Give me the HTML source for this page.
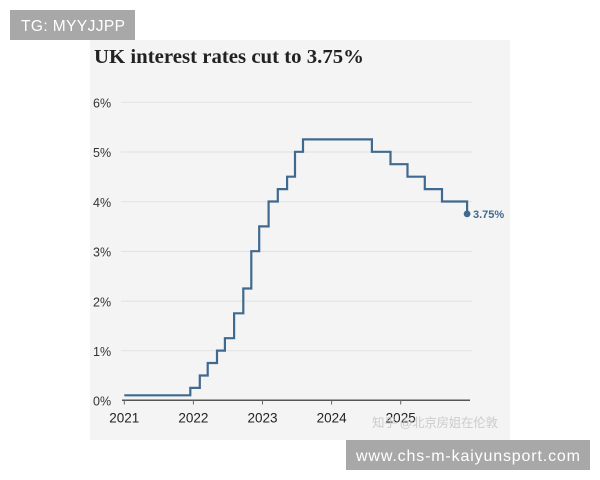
<!DOCTYPE html>
<html>
<head>
<meta charset="utf-8">
<style>
html,body{margin:0;padding:0;background:#fff;}
body{width:600px;height:480px;position:relative;overflow:hidden;}
svg{position:absolute;left:0;top:0;}
</style>
</head>
<body>
<svg width="600" height="480" viewBox="0 0 600 480" xmlns="http://www.w3.org/2000/svg">
  <rect x="0" y="0" width="600" height="480" fill="#ffffff"/>
  <!-- card -->
  <rect x="90" y="40" width="420" height="400" fill="#f4f4f4"/>
  <!-- TG box -->
  <rect x="10" y="10" width="125" height="30" fill="#a8a8a8"/>
  <text x="21" y="31" font-family="Liberation Sans, sans-serif" font-size="15.5" fill="#ffffff" textLength="104">TG: MYYJJPP</text>

  <!-- title -->
  <text x="94" y="63" font-family="Liberation Serif, serif" font-weight="bold" font-size="19.5" fill="#222222" textLength="270" lengthAdjust="spacingAndGlyphs">UK interest rates cut to 3.75%</text>

  <!-- gridlines -->
  <g stroke="#e1e1e1" stroke-width="1">
    <line x1="121" y1="102.3" x2="472" y2="102.3"/>
    <line x1="121" y1="152" x2="472" y2="152"/>
    <line x1="121" y1="201.7" x2="472" y2="201.7"/>
    <line x1="121" y1="251.4" x2="472" y2="251.4"/>
    <line x1="121" y1="301.1" x2="472" y2="301.1"/>
    <line x1="121" y1="350.8" x2="472" y2="350.8"/>
  </g>
  <!-- y labels -->
  <g font-family="Liberation Sans, sans-serif" font-size="12.5" fill="#333333">
    <text x="93" y="107.5">6%</text>
    <text x="93" y="157.2">5%</text>
    <text x="93" y="206.9">4%</text>
    <text x="93" y="256.6">3%</text>
    <text x="93" y="306.3">2%</text>
    <text x="93" y="356">1%</text>
    <text x="93" y="405.5">0%</text>
  </g>
  <!-- axis -->
  <line x1="122" y1="400.3" x2="470" y2="400.3" stroke="#555555" stroke-width="1.5"/>
  <g stroke="#666666" stroke-width="1">
    <line x1="124.3" y1="400.3" x2="124.3" y2="404.5"/>
    <line x1="193.4" y1="400.3" x2="193.4" y2="404.5"/>
    <line x1="262.5" y1="400.3" x2="262.5" y2="404.5"/>
    <line x1="331.6" y1="400.3" x2="331.6" y2="404.5"/>
    <line x1="400.7" y1="400.3" x2="400.7" y2="404.5"/>
  </g>
  <g font-family="Liberation Sans, sans-serif" font-size="13.5" fill="#222222" text-anchor="middle">
    <text x="124.3" y="422.7">2021</text>
    <text x="193.4" y="422.7">2022</text>
    <text x="262.5" y="422.7">2023</text>
    <text x="331.6" y="422.7">2024</text>
    <text x="400.7" y="422.7">2025</text>
  </g>

  <!-- watermark -->
  <text x="372" y="427" font-family="Liberation Sans, Noto Sans CJK SC, sans-serif" font-size="12.5" fill="#c4c4c4" fill-opacity="0.85" textLength="126">知乎 @北京房姐在伦敦</text>

  <!-- series -->
  <polyline fill="none" stroke="#40698f" stroke-width="2.2" stroke-linejoin="miter"
    points="124.3,395.3 190.3,395.3 190.3,387.9 199.8,387.9 199.8,375.5 207.7,375.5 207.7,363.0 217.0,363.0 217.0,350.6 224.9,350.6 224.9,338.2 234.1,338.2 234.1,313.3 243.3,313.3 243.3,288.5 251.3,288.5 251.3,251.2 259.2,251.2 259.2,226.4 268.6,226.4 268.6,201.5 277.8,201.5 277.8,189.1 287.1,189.1 287.1,176.7 295.0,176.7 295.0,151.8 303.0,151.8 303.0,139.4 371.9,139.4 371.9,151.8 390.5,151.8 390.5,164.2 407.5,164.2 407.5,176.7 424.8,176.7 424.8,189.1 442.0,189.1 442.0,201.5 467.1,201.5 467.1,213.9"/>
  <circle cx="467.1" cy="213.9" r="3.4" fill="#40698f"/>
  <text x="473" y="218" font-family="Liberation Sans, sans-serif" font-size="11" font-weight="bold" fill="#40698f">3.75%</text>

  <!-- bottom box -->
  <rect x="346" y="440" width="244" height="30" fill="#a8a8a8"/>
  <text x="356" y="461" font-family="Liberation Sans, sans-serif" font-size="16" fill="#ffffff" textLength="224">www.chs-m-kaiyunsport.com</text>
</svg>
</body>
</html>
